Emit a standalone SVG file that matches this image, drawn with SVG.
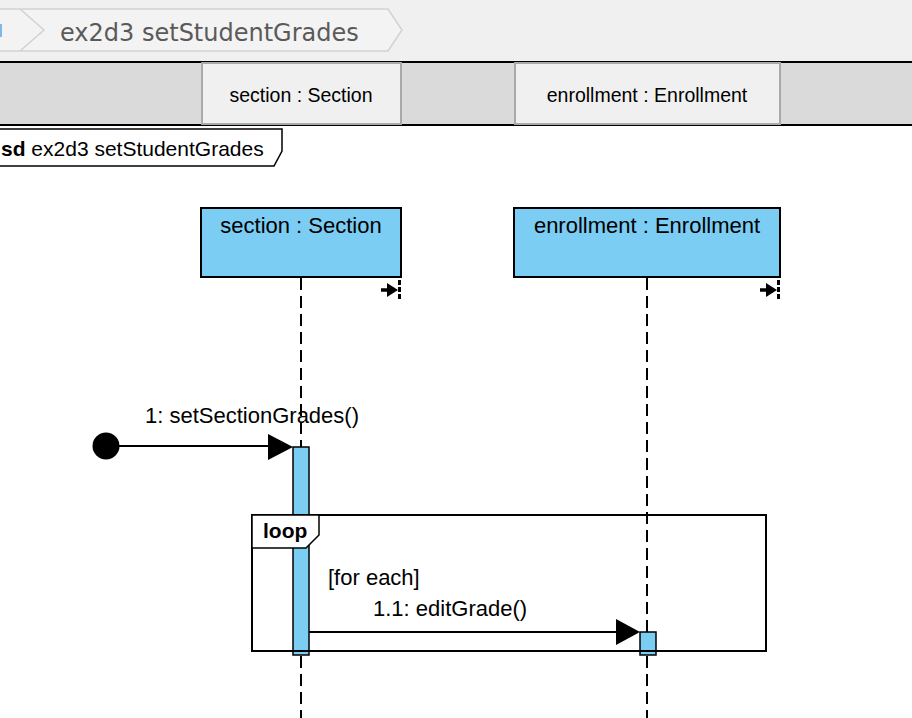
<svg xmlns="http://www.w3.org/2000/svg" width="912" height="718" viewBox="0 0 912 718">
<style>
.crumb{font-family:"DejaVu Sans",sans-serif;font-size:24px;fill:#5a5a5a}
.hdr{font-family:"Liberation Sans",Arial,sans-serif;font-size:19.5px;fill:#000;text-anchor:middle}
.t{font-family:"Liberation Sans",Arial,sans-serif;font-size:22px;fill:#000}
.tc{text-anchor:middle}
.b{font-weight:bold}
.box{fill:#7bcdf3;stroke:#000;stroke-width:2}
.act{fill:#7bcdf3;stroke:#000;stroke-width:1.5}
.life{stroke:#000;stroke-width:2;stroke-dasharray:12,6;fill:none}
.ln{stroke:#000;stroke-width:2;fill:none}
.hbox{fill:#f0f0f0;stroke:#a9a9a9;stroke-width:2}
</style>
<defs>
<g id="mark">
<line x1="381" y1="290" x2="390" y2="290" stroke="#000" stroke-width="3.5"/>
<polygon points="387,283 398,290 387,297" fill="#000"/>
<line x1="399.5" y1="280" x2="399.5" y2="299" stroke="#000" stroke-width="3" stroke-dasharray="5,2"/>
</g>
</defs>
<rect x="0" y="0" width="912" height="718" fill="#fff"/>
<!-- top toolbar / breadcrumb -->
<rect x="0" y="0" width="912" height="62" fill="#f0f0f0"/>
<polygon points="-2,9 388,9 402,30 388,51 -2,51" fill="#f3f3f3" stroke="#d2d2d2" stroke-width="1.5"/>
<polyline points="20,9 44,30 20,51" fill="none" stroke="#d2d2d2" stroke-width="1.5"/>
<rect x="0" y="24" width="2" height="13" fill="#7fb8e6"/>
<text class="crumb" x="60" y="41">ex2d3 setStudentGrades</text>
<!-- header band -->
<rect x="0" y="62" width="912" height="63" fill="#dadada"/>
<line x1="0" y1="62" x2="912" y2="62" stroke="#000" stroke-width="2"/>
<line x1="0" y1="125" x2="912" y2="125" stroke="#000" stroke-width="2"/>
<g id="hdr-section">
<rect class="hbox" x="202" y="63" width="199" height="61"/>
<text class="hdr" x="301" y="102">section : Section</text>
</g>
<g id="hdr-enrollment">
<rect class="hbox" x="515" y="63" width="265" height="61"/>
<text class="hdr" x="647" y="102">enrollment : Enrollment</text>
</g>
<!-- frame tab -->
<g id="frame">
<polygon points="-2,129 282,129 282,151 274,166 -2,166" fill="#fff" stroke="#000" stroke-width="1.5"/>
<text class="t" x="1" y="156" style="font-size:21px"><tspan class="b">sd</tspan> ex2d3 setStudentGrades</text>
</g>
<!-- lifelines -->
<g id="connectors">
<line class="life" x1="301" y1="278" x2="301" y2="718"/>
<line class="life" x1="647" y1="278" x2="647" y2="718"/>
</g>
<g id="section">
<rect class="box" x="201" y="208" width="200" height="69"/>
<text class="t tc" x="301" y="233">section : Section</text>
<use href="#mark"/>
</g>
<g id="enrollment">
<rect class="box" x="514" y="208" width="266" height="69"/>
<text class="t tc" x="647" y="233">enrollment : Enrollment</text>
<use href="#mark" transform="translate(379,0)"/>
</g>
<!-- activations -->
<g id="act-section">
<rect class="act" x="293" y="447" width="16" height="208"/>
</g>
<g id="act-enrollment">
<rect class="act" x="640" y="632" width="16" height="23"/>
</g>
<!-- loop frame -->
<g id="loop">
<rect x="252" y="515" width="514" height="136" fill="none" stroke="#000" stroke-width="2"/>
<polygon points="252,515 319,515 319,535 306,548 252,548" fill="#fff" stroke="#000" stroke-width="1.5"/>
<text class="t b" x="263" y="538" style="font-size:21px">loop</text>
<text class="t" x="328" y="585">[for each]</text>
</g>
<!-- messages -->
<g id="messages">
<circle cx="106" cy="446" r="13.5" fill="#000"/>
<line class="ln" x1="118" y1="446" x2="270" y2="446"/>
<polygon points="268,434 293,447 268,460" fill="#000"/>
<text class="t tc" x="252" y="423">1: setSectionGrades()</text>
<line class="ln" x1="309" y1="632" x2="618" y2="632"/>
<polygon points="616,619 640,632 616,645" fill="#000"/>
<text class="t" x="373" y="616">1.1: editGrade()</text>
</g>
</svg>
